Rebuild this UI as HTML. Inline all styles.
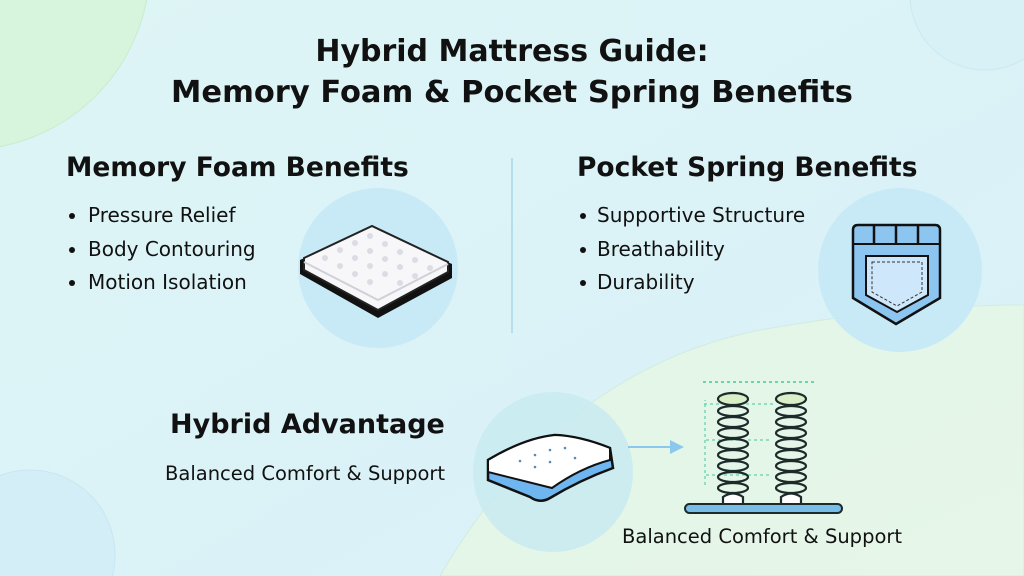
<!DOCTYPE html>
<html><head><meta charset="utf-8"><style>
html,body{margin:0;padding:0;width:1024px;height:576px;overflow:hidden;background:#dcf3f8}
svg{display:block;position:absolute;left:0;top:0}
text{font-family:"DejaVu Sans","Liberation Sans",sans-serif;fill:#111}
</style></head><body>
<svg width="1024" height="576" viewBox="0 0 1024 576" xmlns="http://www.w3.org/2000/svg">
<defs>
<linearGradient id="bg" x1="0" y1="0" x2="1" y2="1"><stop offset="0" stop-color="#def5f6"/><stop offset="1" stop-color="#d8f0f8"/></linearGradient>
<linearGradient id="gr" x1="0" y1="0" x2="1" y2="1"><stop offset="0" stop-color="#e2f5e6"/><stop offset="1" stop-color="#e6f7ea"/></linearGradient>
</defs>
<rect width="1024" height="576" fill="url(#bg)"/>
<circle cx="-35" cy="-35" r="185" fill="#d6f5dc" stroke="#c8ecd0"/>
<circle cx="985" cy="-5" r="75" fill="#d7f1f7" stroke="#cbe9f2"/>
<circle cx="30" cy="555" r="85" fill="#d4eef7" stroke="#c9e6f1"/>
<path d="M440,576 Q560,370 760,330 Q900,305 1024,305 L1024,576 Z" fill="url(#gr)" stroke="#d3ebe0"/>

<text x="512" y="61" text-anchor="middle" font-size="30" font-weight="bold">Hybrid Mattress Guide:</text>
<text x="512" y="102" text-anchor="middle" font-size="30.5" font-weight="bold">Memory Foam &amp; Pocket Spring Benefits</text>

<text x="66" y="176" font-size="26.5" font-weight="bold">Memory Foam Benefits</text>
<text x="577" y="176" font-size="26.5" font-weight="bold">Pocket Spring Benefits</text>
<line x1="512" y1="158" x2="512" y2="333" stroke="#a9d8ea" stroke-width="1.5"/>

<g font-size="20">
<circle cx="72" cy="216" r="3" fill="#111"/><text x="88" y="222">Pressure Relief</text>
<circle cx="72" cy="250" r="3" fill="#111"/><text x="88" y="256">Body Contouring</text>
<circle cx="72" cy="283" r="3" fill="#111"/><text x="88" y="289">Motion Isolation</text>
<circle cx="583" cy="216" r="3" fill="#111"/><text x="597" y="222">Supportive Structure</text>
<circle cx="583" cy="250" r="3" fill="#111"/><text x="597" y="256">Breathability</text>
<circle cx="583" cy="283" r="3" fill="#111"/><text x="597" y="289">Durability</text>
</g>

<!-- foam icon -->
<circle cx="378" cy="268" r="80" fill="#c8eaf7"/>
<path d="M300,260 L372,228 L452,264 L452,278 L378,318 L300,274 Z" fill="#111"/>
<path d="M304,258 L372,226 L448,262 L448,272 L378,310 L304,270 Z" fill="#f7f7f9" stroke="#222" stroke-width="2"/>
<path d="M304,262 L378,300 L448,264" fill="none" stroke="#d0d0d8" stroke-width="2"/>
<g fill="#dcdce4">
<circle cx="340" cy="250" r="3"/><circle cx="355" cy="243" r="3"/><circle cx="370" cy="236" r="3"/><circle cx="355" cy="258" r="3"/><circle cx="370" cy="251" r="3"/><circle cx="385" cy="244" r="3"/><circle cx="370" cy="266" r="3"/><circle cx="385" cy="259" r="3"/><circle cx="400" cy="252" r="3"/><circle cx="385" cy="274" r="3"/><circle cx="400" cy="267" r="3"/><circle cx="415" cy="260" r="3"/><circle cx="325" cy="258" r="3"/><circle cx="340" cy="266" r="3"/><circle cx="355" cy="274" r="3"/><circle cx="370" cy="282" r="3"/><circle cx="400" cy="283" r="3"/><circle cx="415" cy="276" r="3"/><circle cx="430" cy="268" r="3"/>
</g>

<!-- pocket icon -->
<circle cx="900" cy="270" r="82" fill="#c8eaf7"/>
<path d="M853,230 Q853,225 858,225 L935,225 Q940,225 940,230 L940,298 L896,324 L853,298 Z" fill="#8cc6f0" stroke="#111" stroke-width="2.5"/>
<line x1="853" y1="244" x2="940" y2="244" stroke="#111" stroke-width="2"/>
<g stroke="#111" stroke-width="2.5"><line x1="874" y1="225" x2="874" y2="244"/><line x1="896" y1="225" x2="896" y2="244"/><line x1="918" y1="225" x2="918" y2="244"/></g>
<path d="M866,256 L928,256 L928,295 L897,312 L866,295 Z" fill="#cfe7fa" stroke="#111" stroke-width="2"/>
<path d="M872,262 L922,262 L922,292 L897,306 L872,292 Z" fill="none" stroke="#333" stroke-dasharray="3 2"/>

<!-- hybrid -->
<text x="170" y="433" font-size="27" font-weight="bold">Hybrid Advantage</text>
<text x="165" y="480" font-size="19.5">Balanced Comfort &amp; Support</text>
<circle cx="553" cy="472" r="80" fill="#c9ebef" opacity="0.9"/>
<path d="M488,460 Q525,438 555,435 Q580,436 610,448 L613,468 Q580,480 550,498 Q540,504 530,497 L488,480 Z" fill="#6fb6f0" stroke="#111" stroke-width="2.5"/>
<path d="M488,460 Q525,438 555,435 Q580,436 610,448 L610,460 Q580,468 552,488 L488,472 Z" fill="#fff" stroke="#111" stroke-width="2"/>
<g fill="#5a8ab0"><circle cx="520" cy="461" r="1.3"/><circle cx="535" cy="455" r="1.3"/><circle cx="550" cy="450" r="1.3"/><circle cx="565" cy="448" r="1.3"/><circle cx="535" cy="467" r="1.3"/><circle cx="550" cy="462" r="1.3"/><circle cx="575" cy="458" r="1.3"/></g>
<line x1="628" y1="447" x2="672" y2="447" stroke="#8cc8ee" stroke-width="2"/>
<path d="M670,440 L684,447 L670,454 Z" fill="#8cc8ee"/>

<!-- springs -->
<line x1="703" y1="382" x2="816" y2="382" stroke="#44c89a" stroke-dasharray="3 3" stroke-width="1.5"/>
<g stroke="#44c89a" stroke-dasharray="3 3" stroke-width="1"><line x1="704" y1="404" x2="776" y2="404"/><line x1="706" y1="440" x2="770" y2="440"/><line x1="706" y1="475" x2="770" y2="475"/><line x1="705" y1="485" x2="705" y2="400"/></g>
<g fill="none" stroke="#1d2a2a" stroke-width="2.2">
<ellipse cx="733" cy="399" rx="15" ry="6" fill="#d8efc8"/><ellipse cx="733" cy="411" rx="15" ry="5"/><ellipse cx="733" cy="422" rx="15" ry="5"/><ellipse cx="733" cy="433" rx="15" ry="5"/><ellipse cx="733" cy="444" rx="15" ry="5"/><ellipse cx="733" cy="455" rx="15" ry="5"/><ellipse cx="733" cy="466" rx="15" ry="5"/><ellipse cx="733" cy="477" rx="15" ry="5"/><ellipse cx="733" cy="488" rx="15" ry="5"/>
<ellipse cx="791" cy="399" rx="15" ry="6" fill="#d8efc8"/><ellipse cx="791" cy="411" rx="15" ry="5"/><ellipse cx="791" cy="422" rx="15" ry="5"/><ellipse cx="791" cy="433" rx="15" ry="5"/><ellipse cx="791" cy="444" rx="15" ry="5"/><ellipse cx="791" cy="455" rx="15" ry="5"/><ellipse cx="791" cy="466" rx="15" ry="5"/><ellipse cx="791" cy="477" rx="15" ry="5"/><ellipse cx="791" cy="488" rx="15" ry="5"/>
<path d="M723,504 L723,497 Q733,490 743,497 L743,504" fill="#fff"/>
<path d="M781,504 L781,497 Q791,490 801,497 L801,504" fill="#fff"/>
</g>
<rect x="685" y="504" width="157" height="9" rx="4.5" fill="#78bde8" stroke="#1d2a2a" stroke-width="2"/>
<text x="622" y="543" font-size="19.5">Balanced Comfort &amp; Support</text>
</svg>
</body></html>
